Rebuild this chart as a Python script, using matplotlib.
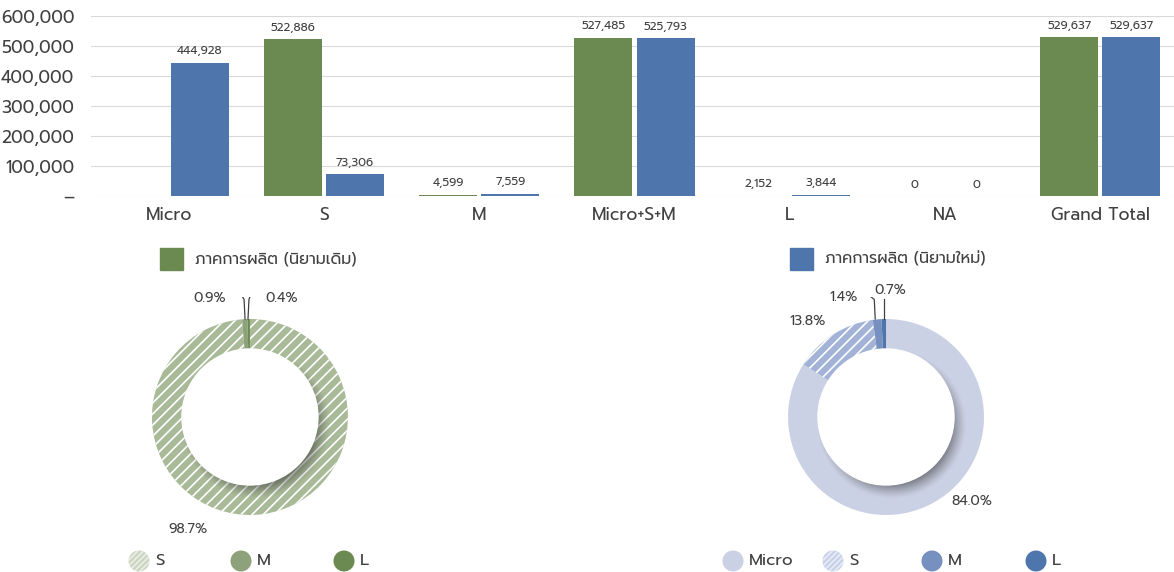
import matplotlib
matplotlib.use("Agg")
import matplotlib.pyplot as plt
import matplotlib.patches as mpatches
import numpy as np

plt.rcParams['font.family'] = ['Prompt', 'DejaVu Sans']
plt.rcParams['hatch.linewidth'] = 1.2

# data
categories = ["Micro", "S", "M", "Micro+S+M", "L", "NA", "Grand Total"]
old_def = [np.nan, 522886, 4599, 527485, 2152, 0, 529637]
new_def = [444928, 73306, 7559, 525793, 3844, 0, 529637]
old_name = "ภาคการผลิต (นิยามเดิม)"
new_name = "ภาคการผลิต (นิยามใหม่)"
pie_old_labels = ["S", "M", "L"]
pie_old_vals = [522886, 4599, 2152]
pie_new_labels = ["Micro", "S", "M", "L"]
pie_new_vals = [444928, 73306, 7559, 3844]

green = "#6A8A52"
blue = "#4E76AD"
txt = "#404040"
old_colors = ["#A9BA98", "#8DA27A", "#6A8A52"]
new_colors = ["#CBD1E4", "#A3B3D7", "#7690C0", "#4E76AD"]
old_hatch = ["///", None, None]
new_hatch = [None, "///", None, None]

fig = plt.figure(figsize=(11.74, 5.72), dpi=100)

# ---- bar chart (right edge runs slightly past the figure, as in the source)
ax = fig.add_axes([91 / 1174, 0.657, 1087 / 1174, 0.315])
x = np.arange(len(categories))
w = 0.373
b1 = ax.bar(x - 0.2, old_def, w, color=green)
b2 = ax.bar(x + 0.2, new_def, w, color=blue)
for bars, vals in ((b1, old_def), (b2, new_def)):
    for r, v in zip(bars, vals):
        if np.isnan(v):
            continue
        ax.annotate(f"{v:,.0f}", (r.get_x() + r.get_width() / 2, v),
                    xytext=(0, 4), textcoords="offset points",
                    ha="center", va="bottom", fontsize=8.5, color=txt)
ax.set_xlim(-0.5, len(categories) - 0.5)
ax.set_ylim(0, 600000)
ax.set_yticks(np.arange(0, 600001, 100000))
ax.yaxis.set_major_formatter(plt.FuncFormatter(lambda v, p: "–" if v == 0 else f"{v:,.0f}"))
ax.set_xticks(x)
ax.set_xticklabels(categories)
ax.tick_params(axis="both", length=0, labelsize=12.5, colors=txt)
ax.tick_params(axis="x", pad=8)
ax.tick_params(axis="y", pad=12)
ax.grid(axis="y", color="#D9D9D9", linewidth=0.8)
ax.set_axisbelow(True)
for s in ax.spines.values():
    s.set_visible(False)

RIN = 0.694


def donut(rect, vals, colors, hatches):
    a = fig.add_axes(rect)
    wedges, _ = a.pie(vals, colors=colors, startangle=90, counterclock=False,
                      radius=1, wedgeprops=dict(width=1 - RIN, linewidth=0))
    for wd, h in zip(wedges, hatches):
        if h:
            wd.set_hatch(h)
            wd.set_edgecolor("white")
    # shadow cast by the hole onto the ring (lower right)
    n = 400
    g = np.linspace(-1, 1, n)
    X, Y = np.meshgrid(g, g)
    ds = np.hypot(X - 0.06, Y + 0.075)
    img = np.zeros((n, n, 4))
    img[..., :3] = 0.15
    img[..., 3] = 0.55 * np.clip((RIN + 0.07 - ds) / 0.17, 0, 1) ** 1.3
    img[np.hypot(X, Y) > 1.0, 3] = 0
    a.imshow(img, extent=(-1, 1, -1, 1), origin="lower", zorder=3, interpolation="bilinear")
    a.add_patch(mpatches.Circle((0, 0), RIN, color="white", zorder=4))
    a.set_xlim(-1.2245, 1.2245)
    a.set_ylim(-1.2245, 1.2245)
    a.set_aspect("equal")
    a.axis("off")
    return a


ta = sum(pie_old_vals)
tb = sum(pie_new_vals)
pa = [v / ta * 100 for v in pie_old_vals]
pb = [v / tb * 100 for v in pie_new_vals]

kw = dict(fontsize=10, color=txt, va="center", ha="center", zorder=6)
lk = dict(color=txt, lw=0.9, zorder=6)

a1 = donut([0.1107, 0.0612, 0.2044, 0.4196], pie_old_vals, old_colors, old_hatch)
a1.text(-0.63, -1.15, f"{pa[0]:.1f}%", **kw)
a1.text(-0.41, 1.214, f"{pa[1]:.1f}%", **kw)
a1.text(0.32, 1.214, f"{pa[2]:.1f}%", **kw)
a1.plot([-0.19, -0.09, -0.06, -0.05], [1.255, 1.25, 1.2, 1.0], **lk)
a1.plot([-0.02, -0.01, 0.01, 0.13], [1.0, 1.2, 1.25, 1.255], **lk)

a2 = donut([0.6525, 0.0612, 0.2044, 0.4196], pie_new_vals, new_colors, new_hatch)
a2.text(0.878, -0.86, f"{pb[0]:.1f}%", **kw)
a2.text(-0.80, 0.97, f"{pb[1]:.1f}%", **kw)
a2.text(-0.43, 1.224, f"{pb[2]:.1f}%", **kw)
a2.text(0.04, 1.29, f"{pb[3]:.1f}%", **kw)
a2.plot([-0.25, -0.165, -0.12, -0.11], [1.255, 1.235, 1.2, 1.0], **lk)
a2.plot([-0.02, -0.02], [1.0, 1.2], **lk)

# ---- legends drawn in pixel space
ov = fig.add_axes([0, 0, 1, 1], zorder=5)
ov.set_xlim(0, 1174)
ov.set_ylim(572, 0)
ov.axis("off")
ov.patch.set_alpha(0)
ov.add_patch(mpatches.Rectangle((160, 248), 23, 22, color=green))
ov.text(195, 259, old_name, fontsize=11.5, color=txt, va="center")
ov.add_patch(mpatches.Rectangle((790, 248), 23, 22, color=blue))
ov.text(825, 259, new_name, fontsize=11.5, color=txt, va="center")

for xs, labs, cols, hs in (([139, 241, 344], pie_old_labels, old_colors, old_hatch),
                           ([733, 833, 932, 1036], pie_new_labels, new_colors, new_hatch)):
    for xc, lab, c, h in zip(xs, labs, cols, hs):
        if h:
            ov.add_patch(mpatches.Ellipse((xc, 561), 21, 21, facecolor=c, alpha=0.6,
                                          hatch="//////", edgecolor="white", lw=0))
        else:
            ov.add_patch(mpatches.Ellipse((xc, 561), 21, 21, color=c, lw=0))
        ov.text(xc + 16, 561, lab, fontsize=12, color=txt, va="center")

fig.savefig("out.png", dpi=100)
